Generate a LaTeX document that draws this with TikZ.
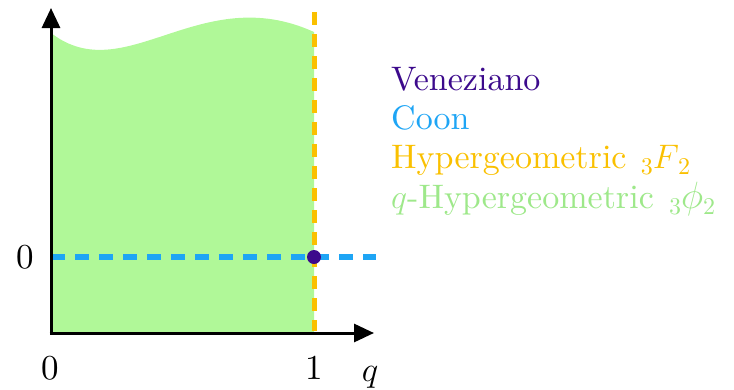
\RequirePackage{fix-cm}
\documentclass[tikz,border=0pt]{standalone}
\usepackage{fontspec}
\newfontfamily\lmten{lmroman10-regular.otf}
\DeclareMathSizes{34}{34}{23}{17}
\DeclareMathSizes{35}{35}{24}{17.5}
\DeclareMathSizes{38}{38}{26}{19}
\usetikzlibrary{arrows.meta}
\definecolor{ven}{HTML}{3C0A8C}
\definecolor{coon}{HTML}{1EA5F5}
\definecolor{hyp}{HTML}{FAC000}
\definecolor{qhyp}{HTML}{B0F898}
\definecolor{qtxt}{HTML}{9EE88A}
\tikzset{
  axis/.style={line width=3pt,-{Triangle[length=20pt,width=18pt]}},
  lbl/.style={font=\fontsize{35}{40}\selectfont\lmten,inner sep=0pt},
  legend/.style={font=\fontsize{34}{40}\selectfont\lmten,anchor=base west,inner sep=0pt},
}
\newcommand{\subsc}[1]{\raisebox{-0.2em}{\fontsize{24}{26}\selectfont\lmten #1}}
\begin{document}
\begin{tikzpicture}[x=1pt,y=-1pt]
\useasboundingbox (0,0) rectangle (734,389);
% green region
\fill[qhyp] (51,333) -- (51,33) .. controls (125,90) and (200,-20) .. (314,32) -- (314,333) -- cycle;
% coordinates
\coordinate (o) at (51,333);
\coordinate (ytip) at (51,8);
\coordinate (xtip) at (374,333);
\coordinate (hl) at (51,257);
\coordinate (hr) at (376,257);
\coordinate (vt) at (314,12);
\coordinate (vb) at (314,331);
% dashed lines
\draw[hyp,line width=5pt,dash pattern=on 13pt off 9pt] (vt) -- (vb);
\draw[coon,line width=6pt,dash pattern=on 14pt off 10pt] (hl) -- (hr);
% axes
\draw[axis] (51,334.5) -- (ytip);
\draw[axis] (49.5,333) -- (xtip);
% dot
\node[circle,fill=ven,minimum size=14pt,inner sep=0pt] (dot) at (314,257) {};
% labels
\node[lbl] (y0) at (25,257) {0};
\node[lbl] (x0) at (50,368) {0};
\node[lbl] (x1) at (314,368) {1};
\node[lbl,anchor=north] (q) at (370,366) {$q$};
% legend
\node[legend,text=ven] (l1) at (391,90) {Veneziano};
\node[legend,text=coon] (l2) at (391,129) {Coon};
\node[legend,text=hyp] (l3) at (391,168) {Hypergeometric\hspace{3pt} \subsc{3}$F$\kern-1pt\subsc{2}};
\node[legend,text=qtxt] (l4) at (391,208) {$q$-Hypergeometric\hspace{4pt} \subsc{3}{\fontsize{38}{40}\selectfont$\phi$}\subsc{2}};
\end{tikzpicture}
\end{document}
